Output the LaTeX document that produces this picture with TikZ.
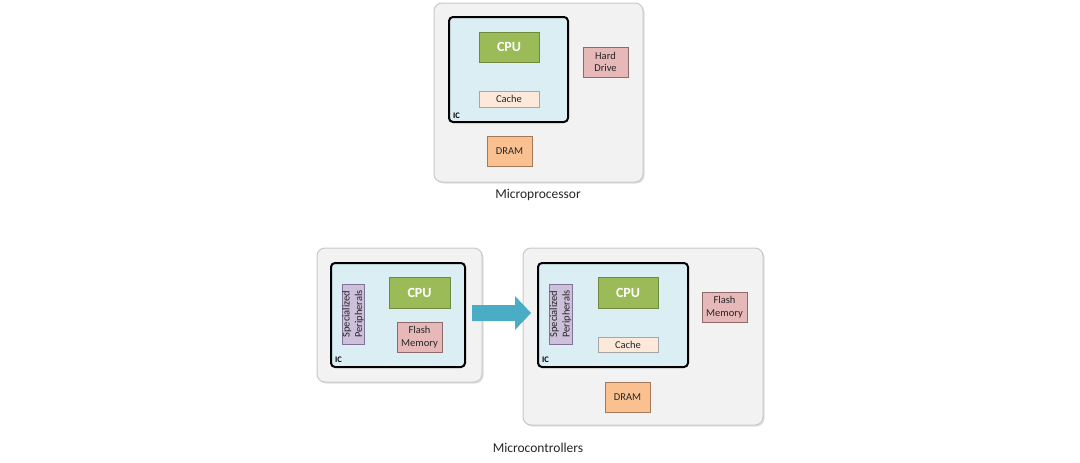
\documentclass[tikz,border=0pt]{standalone}
\usepackage{fontspec}
\setmainfont{Carlito}
\usetikzlibrary{shadows,arrows.meta}
\definecolor{outerfill}{HTML}{F2F2F2}
\definecolor{outerdraw}{HTML}{C8C8C8}
\definecolor{icfill}{HTML}{DAEEF3}
\definecolor{cpufill}{HTML}{9BBB59}
\definecolor{cpudraw}{HTML}{71893F}
\definecolor{cachefill}{HTML}{FDE9D9}
\definecolor{cachedraw}{HTML}{A6A6A6}
\definecolor{pinkfill}{HTML}{E6B9B8}
\definecolor{pinkdraw}{HTML}{8E6A6A}
\definecolor{dramfill}{HTML}{FAC090}
\definecolor{dramdraw}{HTML}{A07A5A}
\definecolor{purpfill}{HTML}{CCC0DA}
\definecolor{purpdraw}{HTML}{7F7398}
\definecolor{arrowcol}{HTML}{4BACC6}
\begin{document}
\begin{tikzpicture}[x=1pt,y=-1pt,
  outerbox/.style={draw=outerdraw,line width=1pt,fill=outerfill,rounded corners=8pt,
     drop shadow={shadow xshift=1.5pt,shadow yshift=-1.5pt,opacity=0.25}},
  icbox/.style={draw=black,line width=2pt,fill=icfill,rounded corners=4pt},
  blk/.style={line width=0.6pt,drop shadow={shadow xshift=1.2pt,shadow yshift=-1.2pt,opacity=0.35},
     inner sep=0pt,align=center,font=\fontsize{10.5}{12.5}\selectfont,text=black!85},
  cpu/.style={blk,draw=cpudraw,fill=cpufill,text=white,font=\fontsize{14}{15}\selectfont\bfseries},
  cache/.style={blk,draw=cachedraw,fill=cachefill},
  pink/.style={blk,draw=pinkdraw,fill=pinkfill},
  dram/.style={blk,draw=dramdraw,fill=dramfill},
  purp/.style={blk,draw=purpdraw,fill=purpfill},
  iclabel/.style={font=\fontsize{8.5}{9}\selectfont\bfseries,anchor=south west,inner sep=0pt},
  caption/.style={font=\fontsize{13.5}{14}\selectfont,text=black!85}
]
\useasboundingbox (0,0) rectangle (1080,463);
% ---------- Microprocessor ----------
\path[outerbox] (434,3) rectangle (643,182);
\path[icbox] (449,17) rectangle (568,122);
\node[iclabel] (ic1) at (453,119) {IC};
\path[cpu] (479,32) rectangle (539,62) node[midway] (cpu1) {CPU};
\path[cache] (479,91) rectangle (539,107) node[midway] (cache1) {Cache};
\path[pink] (583,47) rectangle (628,77) node[midway] (hd1) {Hard\\Drive};
\path[dram] (487,136) rectangle (532,166) node[midway] (dram1) {DRAM};
\node[caption] (cap1) at (538,195) {Microprocessor};
% ---------- Microcontroller (left) ----------
\path[outerbox] (317,248) rectangle (482,382);
\path[icbox] (331,263) rectangle (465,367);
\node[iclabel] (ic2) at (335,363) {IC};
\path[purp] (342,284) rectangle (364,344) node[midway,rotate=90] (sp2) {Specialized\\Peripherals};
\path[cpu] (389,277) rectangle (450,308) node[midway] (cpu2) {CPU};
\path[pink] (397,322) rectangle (442,352) node[midway] (fl2) {Flash\\Memory};
% ---------- Microcontroller (right) ----------
\path[outerbox] (523,248) rectangle (763,425);
\path[icbox] (538,263) rectangle (688,367);
\node[iclabel] (ic3) at (542,363) {IC};
\path[purp] (549,284) rectangle (572,344) node[midway,rotate=90] (sp3) {Specialized\\Peripherals};
\path[cpu] (598,277) rectangle (658,308) node[midway] (cpu3) {CPU};
\path[cache] (598,337) rectangle (658,352) node[midway] (cache3) {Cache};
\path[pink] (702,292) rectangle (747,322) node[midway] (fl3) {Flash\\Memory};
\path[dram] (605,382) rectangle (650,412) node[midway] (dram3) {DRAM};
\node[caption] (cap2) at (538,448) {Microcontrollers};
% ---------- arrow ----------
\fill[arrowcol] (472,305) -- (515,305) -- (515,296) -- (531,313) -- (515,330) -- (515,321) -- (472,321) -- cycle;
\end{tikzpicture}
\end{document}
